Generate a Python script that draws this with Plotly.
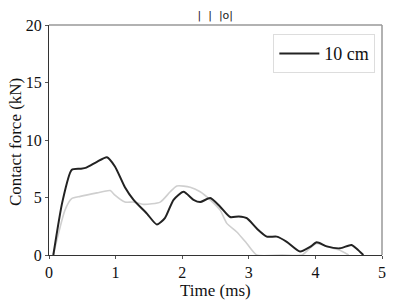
import plotly.graph_objects as go

# Black series (10 cm)
t_black = [0.065, 0.2, 0.34, 0.47, 0.56, 0.72, 0.87, 0.99, 1.14, 1.27, 1.47, 1.62, 1.74, 1.87, 2.02, 2.17, 2.27, 2.42, 2.57, 2.72, 2.85, 2.97, 3.12, 3.27, 3.42, 3.57, 3.77, 3.92, 4.02, 4.17, 4.37, 4.54, 4.62, 4.72]
f_black = [0.0, 4.6, 7.4, 7.5, 7.6, 8.1, 8.5, 7.7, 5.9, 4.8, 3.6, 2.65, 3.2, 4.8, 5.5, 4.8, 4.6, 4.95, 4.2, 3.3, 3.35, 3.2, 2.3, 1.6, 1.6, 1.15, 0.3, 0.7, 1.1, 0.75, 0.58, 0.87, 0.55, 0.0]

# Gray series (reference)
t_gray = [0.065, 0.24, 0.34, 0.47, 0.72, 0.92, 0.99, 1.14, 1.27, 1.42, 1.67, 1.82, 1.92, 2.12, 2.27, 2.42, 2.57, 2.67, 2.82, 2.97, 3.12, 3.5, 3.8, 3.9, 4.02, 4.17, 4.35, 4.5]
f_gray = [0.0, 3.9, 4.9, 5.1, 5.4, 5.6, 5.2, 4.6, 4.6, 4.4, 4.6, 5.5, 6.0, 5.9, 5.5, 4.8, 3.9, 2.75, 2.0, 1.0, 0.0, 0.0, 0.0, 0.5, 1.0, 0.75, 0.45, 0.0]

x_ticks = [0, 1, 2, 3, 4, 5]
y_ticks = [0, 5, 10, 15, 20]

x_title = "Time (ms)"
y_title = "Contact force (kN)"
top_title = "|  |  |o|"

font_family = "Liberation Serif, DejaVu Serif, serif"

fig = go.Figure()
fig.add_trace(go.Scatter(x=t_gray, y=f_gray, mode="lines", line=dict(color="#cfcfcf", width=1.6, shape="spline", smoothing=0.6),
                         showlegend=False, hoverinfo="skip"))
fig.add_trace(go.Scatter(x=t_black, y=f_black, mode="lines", line=dict(color="#222222", width=2, shape="spline", smoothing=0.6),
                         name="10 cm", hoverinfo="skip"))

axis_common = dict(showgrid=False, zeroline=False, ticks="outside", ticklen=3, tickwidth=1, automargin=False,
                   tickcolor="#555555", showline=True, linecolor="#333333", linewidth=1,
                   tickfont=dict(family=font_family, size=16, color="#111111"))

fig.update_layout(
    width=395, height=304,
    margin=dict(l=49, r=13, t=25, b=49, autoexpand=False),
    plot_bgcolor="white", paper_bgcolor="white",
    font=dict(family=font_family, color="#111111"),
    title=dict(text=top_title, x=0.545, xanchor="center", y=0.95, yanchor="middle", automargin=False,
               font=dict(family="DejaVu Sans", size=11, color="#222222")),
    xaxis=dict(range=[0, 5], tickvals=x_ticks, **axis_common),
    yaxis=dict(range=[0, 20], tickvals=y_ticks, **axis_common),
    legend=dict(x=0.98, y=0.96, xanchor="right", yanchor="top", bordercolor="#dddddd", borderwidth=1,
                bgcolor="white", font=dict(family=font_family, size=18), itemwidth=40),
    annotations=[
        dict(text=x_title, xref="paper", yref="paper", x=0.5, y=-0.153, xanchor="center", yanchor="middle",
             showarrow=False, font=dict(family=font_family, size=17, color="#111111")),
        dict(text=y_title, xref="paper", yref="paper", x=-0.102, y=0.491, xanchor="center", yanchor="middle",
             textangle=-90, showarrow=False, font=dict(family=font_family, size=17, color="#111111")),
    ],
    shapes=[
        dict(type="line", xref="paper", yref="paper", x0=0, x1=1, y0=1, y1=1, line=dict(color="#999999", width=1.5)),
        dict(type="line", xref="paper", yref="paper", x0=1, x1=1, y0=0, y1=1, line=dict(color="#999999", width=1.5)),
    ],
)

fig.write_html("out.html", config={"displayModeBar": False},
               post_script="document.body.style.margin='0';document.body.style.overflow='hidden';")
